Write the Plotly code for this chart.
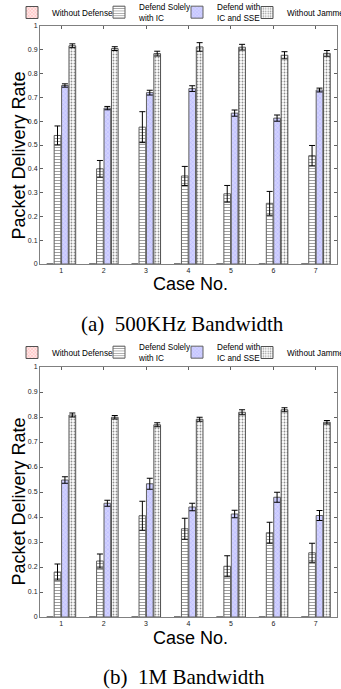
import plotly.graph_objects as go

W, H = 341, 689

cases = [1, 2, 3, 4, 5, 6, 7]
series_names = ["Without Defense", "Defend Solely<br>with IC", "Defend with<br>IC and SSE", "Without Jammer"]

# (a) 500KHz Bandwidth
a_nodef = [0, 0, 0, 0, 0, 0, 0]
a_ic = [0.54, 0.40, 0.575, 0.37, 0.295, 0.255, 0.455]
a_ic_err = [0.04, 0.035, 0.065, 0.04, 0.035, 0.05, 0.043]
a_sse = [0.75, 0.655, 0.72, 0.737, 0.634, 0.613, 0.731]
a_sse_err = [0.007, 0.007, 0.01, 0.012, 0.013, 0.013, 0.008]
a_nj = [0.917, 0.905, 0.884, 0.912, 0.911, 0.877, 0.885]
a_nj_err = [0.008, 0.008, 0.01, 0.018, 0.012, 0.015, 0.012]

# (b) 1M Bandwidth
b_nodef = [0, 0, 0, 0, 0, 0, 0]
b_ic = [0.18, 0.224, 0.405, 0.353, 0.203, 0.337, 0.257]
b_ic_err = [0.032, 0.028, 0.058, 0.042, 0.042, 0.042, 0.038]
b_sse = [0.548, 0.455, 0.533, 0.44, 0.412, 0.479, 0.406]
b_sse_err = [0.013, 0.012, 0.022, 0.015, 0.015, 0.02, 0.02]
b_nj = [0.808, 0.799, 0.769, 0.791, 0.819, 0.829, 0.779]
b_nj_err = [0.008, 0.007, 0.008, 0.008, 0.01, 0.008, 0.007]

ytick_vals = [0, 0.1, 0.2, 0.3, 0.4, 0.5, 0.6, 0.7, 0.8, 0.9, 1]
ytick_text = ["0", "0.1", "0.2", "0.3", "0.4", "0.5", "0.6", "0.7", "0.8", "0.9", "1"]

styles = [
    dict(color="#ffe4e4", line=dict(color="#505050", width=1),
         pattern=dict(shape="x", fgcolor="#ff6060", bgcolor="#ffe8e8", size=3, solidity=0.3)),
    dict(color="white", line=dict(color="#606060", width=1),
         pattern=dict(shape="-", fgcolor="#404040", bgcolor="white", size=3, solidity=0.35)),
    dict(color="#c0c0ff", line=dict(color="#606060", width=1),
         pattern=dict(shape="x", fgcolor="#7c7cff", bgcolor="#d2d2ff", size=3, solidity=0.2)),
    dict(color="white", line=dict(color="#505050", width=1),
         pattern=dict(shape=".", fgcolor="#202020", bgcolor="white", size=3, solidity=0.3)),
]

fig = go.Figure()

def add_panel(vals, errs, xa, ya, legends):
    for i, (v, e) in enumerate(zip(vals, errs)):
        err = None
        if e is not None:
            err = dict(type="data", array=e, color="black", thickness=1, width=3)
        fig.add_trace(go.Bar(
            x=cases, y=v, name=series_names[i], marker=styles[i],
            error_y=err, xaxis=xa, yaxis=ya, legend=legends[i], showlegend=True,
        ))

add_panel([a_nodef, a_ic, a_sse, a_nj], [None, a_ic_err, a_sse_err, a_nj_err],
          "x", "y", ["legend", "legend2", "legend3", "legend4"])
add_panel([b_nodef, b_ic, b_sse, b_nj], [None, b_ic_err, b_sse_err, b_nj_err],
          "x2", "y2", ["legend5", "legend6", "legend7", "legend8"])

xl, xr = 40 / W, 337 / W
top_dom = [1 - 264 / H, 1 - 26 / H]
bot_dom = [1 - 617 / H, 1 - 367 / H]

tickfont = dict(family="Liberation Sans, Arial", size=7, color="#222")
axcommon = dict(showline=True, linecolor="#808080", linewidth=1, mirror="ticks",
                ticks="inside", ticklen=3, tickcolor="#606060", showgrid=False,
                zeroline=False, tickfont=tickfont)

layout = dict(
    width=W, height=H,
    margin=dict(l=0, r=0, t=0, b=0, autoexpand=False),
    paper_bgcolor="white", plot_bgcolor="white",
    barmode="group", bargap=0.3, bargroupgap=0.1,
    xaxis=dict(domain=[xl, xr], anchor="y", range=[0.5, 7.5], tickvals=cases, **axcommon),
    yaxis=dict(domain=top_dom, anchor="x", range=[0, 1], tickvals=ytick_vals, ticktext=ytick_text, **axcommon),
    xaxis2=dict(domain=[xl, xr], anchor="y2", range=[0.5, 7.5], tickvals=cases, **axcommon),
    yaxis2=dict(domain=bot_dom, anchor="x2", range=[0, 1], tickvals=ytick_vals, ticktext=ytick_text, **axcommon),
    showlegend=True,
)

leg_x = [12, 99, 177, 247]
leg_y_top, leg_y_bot = 12.5, 352.5
legfont = dict(family="Liberation Sans, Arial", size=8.2, color="black")
keys = ["legend", "legend2", "legend3", "legend4", "legend5", "legend6", "legend7", "legend8"]
for k, key in enumerate(keys):
    ypx = leg_y_top if k < 4 else leg_y_bot
    layout[key] = dict(x=leg_x[k % 4] / W, y=1 - ypx / H, xanchor="left", yanchor="middle",
                       bgcolor="rgba(0,0,0,0)", borderwidth=0, font=legfont,
                       itemwidth=30, tracegroupgap=0, orientation="v")

fig.update_layout(**layout)

ann = []
titlefont = dict(family="Liberation Sans, Arial", size=18, color="black")
capfont = dict(family="Liberation Serif, Times New Roman", size=21, color="black")
for (ytitle_y, case_y, cap_y, cap_text, cap_x) in [
    (156, 284, 324, "(a)  500KHz Bandwidth", 182),
    (502, 638, 677, "(b)  1M Bandwidth", 184),
]:
    ann.append(dict(text="Packet Delivery Rate", x=18.5 / W, y=1 - ytitle_y / H, xref="paper", yref="paper",
                    xanchor="center", yanchor="middle", textangle=-90, showarrow=False, font=titlefont))
    ann.append(dict(text="Case No.", x=191 / W, y=1 - case_y / H, xref="paper", yref="paper",
                    xanchor="center", yanchor="middle", showarrow=False, font=titlefont))
    ann.append(dict(text=cap_text, x=cap_x / W, y=1 - cap_y / H, xref="paper", yref="paper",
                    xanchor="center", yanchor="middle", showarrow=False, font=capfont))
fig.update_layout(annotations=ann)

fig.write_html("out.html")
